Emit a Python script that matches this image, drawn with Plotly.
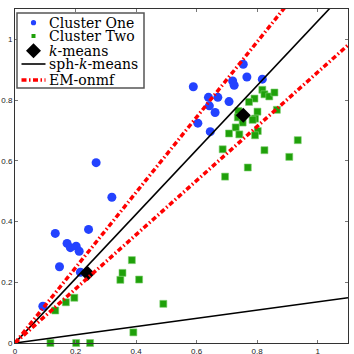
import plotly.graph_objects as go

# Cluster One (blue circles)
c1_x = [0.092, 0.133, 0.147, 0.172, 0.183, 0.202, 0.212, 0.216, 0.243, 0.320, 0.268,
        0.589, 0.754, 0.719, 0.724, 0.766, 0.817, 0.639, 0.670, 0.642, 0.661, 0.707, 0.604, 0.645]
c1_y = [0.121, 0.361, 0.251, 0.328, 0.314, 0.319, 0.302, 0.233, 0.374, 0.480, 0.594,
        0.844, 0.918, 0.863, 0.849, 0.876, 0.869, 0.809, 0.809, 0.781, 0.759, 0.795, 0.724, 0.696]

# Cluster Two (green squares)
c2_x = [0.817, 0.824, 0.840, 0.857, 0.791, 0.773, 0.865, 0.801, 0.738, 0.736, 0.793, 0.785,
        0.752, 0.729, 0.707, 0.741, 0.802, 0.793, 0.686, 0.824, 0.934, 0.906, 0.769, 0.694,
        0.117, 0.202, 0.248, 0.133, 0.168, 0.196, 0.386, 0.355, 0.348, 0.410, 0.490, 0.391]
c2_y = [0.834, 0.819, 0.812, 0.825, 0.805, 0.794, 0.768, 0.762, 0.764, 0.743, 0.739, 0.735,
        0.726, 0.710, 0.690, 0.687, 0.698, 0.684, 0.638, 0.635, 0.668, 0.613, 0.578, 0.548,
        0.000, 0.000, 0.000, 0.107, 0.134, 0.149, 0.273, 0.231, 0.208, 0.209, 0.129, 0.035]

# k-means centroids
km_x = [0.240, 0.754]
km_y = [0.229, 0.750]

# sph-k-means directions (origin -> end point)
sph_x = [0, 1.1, None, 0, 1.1]
sph_y = [0, 1.166, None, 0, 0.149]

# EM-onmf directions
em_x = [0, 1.1, None, 0, 1.1]
em_y = [0, 1.364, None, 0, 0.981]

TICKS = [0, 0.2, 0.4, 0.6, 0.8, 1]
TICK_TEXT = ["0", "0.2", "0.4", "0.6", "0.8", "1"]

LEGEND_NAMES = ["Cluster One", "Cluster Two", "<i>k</i>-means", "sph-<i>k</i>-means", "EM-onmf"]

BLUE = "#2342FF"
GREEN = "#1FA00A"
RED = "#FF0000"
EM_DASH = "5px,2.5px,1.5px,2.5px"

W, H = 354, 354
ML, MR, MT, MB = 15, 6, 9, 11


def px2x(px):
    return (px - ML) / (W - ML - MR)


def px2y(py):
    return (H - MB - py) / (H - MT - MB)


fig = go.Figure()
fig.add_trace(go.Scatter(x=c1_x, y=c1_y, mode="markers", name=LEGEND_NAMES[0],
                         marker=dict(symbol="circle", size=9, color=BLUE),
                         cliponaxis=False))
fig.add_trace(go.Scatter(x=c2_x, y=c2_y, mode="markers", name=LEGEND_NAMES[1],
                         marker=dict(symbol="square", size=7, color=GREEN,
                                     line=dict(width=0.6, color="#7ED06E")),
                         cliponaxis=False))
fig.add_trace(go.Scatter(x=km_x, y=km_y, mode="markers", name=LEGEND_NAMES[2],
                         marker=dict(symbol="diamond", size=11.5, color="black")))
fig.add_trace(go.Scatter(x=sph_x, y=sph_y, mode="lines", name=LEGEND_NAMES[3],
                         line=dict(color="black", width=1.6)))
fig.add_trace(go.Scatter(x=em_x, y=em_y, mode="lines", name=LEGEND_NAMES[4],
                         line=dict(color=RED, width=3.5, dash=EM_DASH)))

axis_style = dict(range=[0, 1.1], tickvals=TICKS, ticktext=TICK_TEXT,
                  ticks="inside", ticklen=3, tickcolor="#777",
                  showline=True, linecolor="#333", linewidth=1, mirror="ticks",
                  showgrid=False, zeroline=False, automargin=False,
                  tickfont=dict(family="Liberation Sans", size=8, color="#222"))

fig.update_xaxes(**axis_style)
fig.update_yaxes(**axis_style)

# hand-drawn legend box (matlab style, compact rows)
row_y = [22.7, 36.0, 50.7, 64.0, 80.0]
sym_cx = 33.5
shapes = [dict(type="rect", xref="paper", yref="paper", layer="above",
               x0=px2x(17), x1=px2x(144), y0=px2y(13), y1=px2y(88),
               line=dict(color="#555", width=1.5), fillcolor="white")]
shapes.append(dict(type="circle", xref="paper", yref="paper", layer="above",
                   x0=px2x(sym_cx - 2.6), x1=px2x(sym_cx + 2.6),
                   y0=px2y(row_y[0] - 2.6), y1=px2y(row_y[0] + 2.6),
                   line=dict(width=0), fillcolor=BLUE))
shapes.append(dict(type="rect", xref="paper", yref="paper", layer="above",
                   x0=px2x(sym_cx - 2), x1=px2x(sym_cx + 2),
                   y0=px2y(row_y[1] - 2), y1=px2y(row_y[1] + 2),
                   line=dict(width=0), fillcolor=GREEN))
d = 7.5
shapes.append(dict(type="path", xref="paper", yref="paper", layer="above",
                   path="M {} {} L {} {} L {} {} L {} {} Z".format(
                       px2x(sym_cx), px2y(row_y[2] - d),
                       px2x(sym_cx + d), px2y(row_y[2]),
                       px2x(sym_cx), px2y(row_y[2] + d),
                       px2x(sym_cx - d), px2y(row_y[2])),
                   line=dict(width=0), fillcolor="black"))
shapes.append(dict(type="line", xref="paper", yref="paper", layer="above",
                   x0=px2x(21.5), x1=px2x(45.5), y0=px2y(row_y[3]), y1=px2y(row_y[3]),
                   line=dict(color="black", width=1.6)))
shapes.append(dict(type="line", xref="paper", yref="paper", layer="above",
                   x0=px2x(21.5), x1=px2x(45.5), y0=px2y(row_y[4]), y1=px2y(row_y[4]),
                   line=dict(color=RED, width=3.5, dash=EM_DASH)))

annotations = []
for name, ry in zip(LEGEND_NAMES, row_y):
    annotations.append(dict(text=name, xref="paper", yref="paper",
                            x=px2x(47), y=px2y(ry), xanchor="left", yanchor="middle",
                            showarrow=False,
                            font=dict(family="DejaVu Serif", size=14, color="black")))

fig.update_layout(
    width=W, height=H,
    margin=dict(l=ML, r=MR, t=MT, b=MB),
    paper_bgcolor="white", plot_bgcolor="white",
    showlegend=False,
    shapes=shapes,
    annotations=annotations,
)

# the page body has a default 8px margin; drop it so the figure sits at the corner
fig.write_html("out.html", config={"displayModeBar": False},
               post_script="document.body.style.margin='0';")
